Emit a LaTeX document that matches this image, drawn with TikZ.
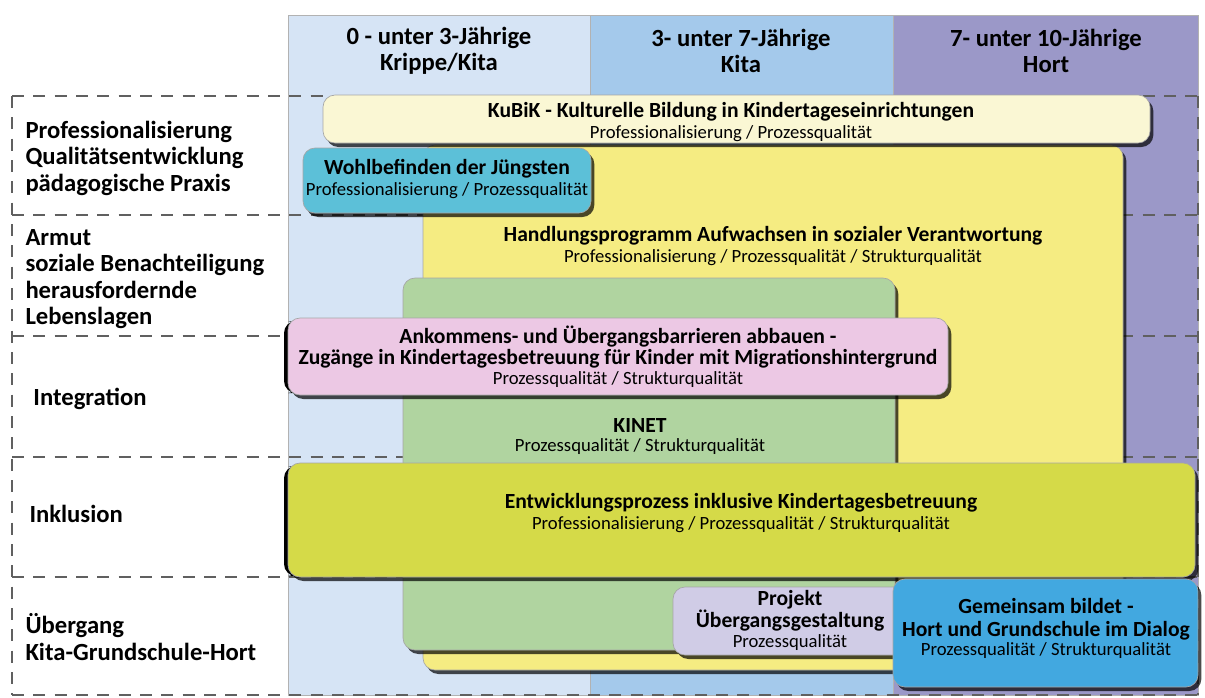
\documentclass[tikz,border=0pt]{standalone}
\usepackage{fontspec}
\setmainfont{Carlito}
\usetikzlibrary{shadows}

\definecolor{colKrippe}{RGB}{214,228,245}
\definecolor{colKita}{RGB}{164,201,235}
\definecolor{colHort}{RGB}{155,152,200}
\definecolor{fillKubik}{RGB}{250,247,212}
\definecolor{fillWohl}{RGB}{92,192,216}
\definecolor{fillHand}{RGB}{245,236,130}
\definecolor{fillKinet}{RGB}{176,212,160}
\definecolor{fillAnk}{RGB}{236,200,228}
\definecolor{fillInkl}{RGB}{213,218,72}
\definecolor{fillProj}{RGB}{208,204,230}
\definecolor{fillGem}{RGB}{66,168,224}

\tikzset{every picture/.style={line width=0.75pt}}
\tikzset{
  rowlabel/.style={anchor=west,inner sep=0.75pt,align=left,font=\fontsize{18.5}{19.9}\selectfont\bfseries},
  headtext/.style={inner sep=0.75pt,align=center,font=\fontsize{18.5}{19.5}\selectfont\bfseries},
  boxtitle/.style={inner sep=0.75pt,align=center,font=\fontsize{16.2}{15.5}\selectfont\bfseries},
  boxsub/.style={inner sep=0.75pt,font=\fontsize{14}{15}\selectfont},
  projbox/.style={draw=gray!70,line width=0.5pt,rounded corners=9,
    drop shadow={shadow xshift=2.5pt,shadow yshift=-3pt,fill=black,opacity=0.7}},
  rowline/.style={draw=gray!75!black,line width=0.8pt,dash pattern=on 9pt off 7pt},
}

\begin{document}
\begin{tikzpicture}[x=0.75pt,y=0.75pt,yscale=-1,xscale=1]
\useasboundingbox (0,0) rectangle (1205,697);

%Columns
\draw [draw=gray!60,fill=colKrippe] (288,15) rectangle (590,695) ;
\draw [draw=gray!60,fill=colKita] (590,15) rectangle (893,695) ;
\draw [draw=gray!60,fill=colHort] (893,15) rectangle (1198,695) ;

%Row lines
\foreach \y in {96,215,336,457,577,695}
  \draw [rowline] (12,\y) -- (1198,\y) ;
\draw [rowline] (12,96) -- (12,695) ;
\draw [rowline] (1198,96) -- (1198,695) ;

%Shape: Handlungsprogramm
\draw [projbox,fill=fillHand] (423,145) rectangle (1123,670) ;
%Shape: KuBiK
\draw [projbox,fill=fillKubik] (323,95) rectangle (1150,143) ;
%Shape: Wohlbefinden
\draw [projbox,fill=fillWohl] (303,148) rectangle (591,213) ;
%Shape: KINET
\draw [projbox,fill=fillKinet] (403,278) rectangle (895,650) ;
%Shape: Ankommen
\fill [black,rounded corners=9] (284,321) rectangle (300,393) ;
\draw [projbox,fill=fillAnk] (288,318) rectangle (948,395) ;
%Shape: Inklusion
\fill [black,rounded corners=9] (284,466) rectangle (300,576) ;
\draw [projbox,fill=fillInkl] (288,463) rectangle (1195,577) ;
%Shape: Projekt
\draw [projbox,fill=fillProj] (673,587) rectangle (905,655) ;
%Shape: Gemeinsam
\draw [projbox,fill=fillGem] (893,579) rectangle (1198,687) ;

% Text Node
\draw (439,51) node (hKrippe) [headtext] {0 - unter 3-Jährige\\Krippe/Kita};
% Text Node
\draw (741,51) node (hKita) [headtext] {3- unter 7-Jährige\\Kita};
% Text Node
\draw (1046,51) node (hHort) [headtext] {7- unter 10-Jährige\\Hort};

% Text Node
\draw (24,158) node (rProf) [rowlabel] {Professionalisierung\\Qualitätsentwicklung\\pädagogische Praxis};
% Text Node
\draw (24,279) node (rArmut) [rowlabel] {Armut\\soziale Benachteiligung\\herausfordernde\\Lebenslagen};
% Text Node
\draw (32,399) node (rInteg) [rowlabel] {Integration};
% Text Node
\draw (28,514) node (rInkl) [rowlabel] {Inklusion};
% Text Node
\draw (24,637) node (rUeber) [rowlabel] {Übergang\\Kita-Grundschule-Hort};

% Text Node
\draw (731,112) node (tKubik) [boxtitle] {KuBiK - Kulturelle Bildung in Kindertageseinrichtungen};
\draw (731,134) node (sKubik) [boxsub] {Professionalisierung / Prozessqualität};
% Text Node
\draw (447,169) node (tWohl) [boxtitle] {Wohlbefinden der Jüngsten};
\draw (447,191) node (sWohl) [boxsub] {Professionalisierung / Prozessqualität};
% Text Node
\draw (773,236) node (tHand) [boxtitle] {Handlungsprogramm Aufwachsen in sozialer Verantwortung};
\draw (773,258) node (sHand) [boxsub] {Professionalisierung / Prozessqualität / Strukturqualität};
% Text Node
\draw (618,347) node (tAnk) [boxtitle] {Ankommens- und Übergangsbarrieren abbauen -\\Zugänge in Kindertagesbetreuung für Kinder mit Migrationshintergrund};
\draw (618,380) node (sAnk) [boxsub] {Prozessqualität / Strukturqualität};
% Text Node
\draw (640,425) node (tKinet) [boxtitle] {KINET};
\draw (640,447) node (sKinet) [boxsub] {Prozessqualität / Strukturqualität};
% Text Node
\draw (741,503) node (tInkl) [boxtitle] {Entwicklungsprozess inklusive Kindertagesbetreuung};
\draw (741,525) node (sInkl) [boxsub] {Professionalisierung / Prozessqualität / Strukturqualität};
% Text Node
\draw (790,611) node (tProj) [boxtitle,font=\fontsize{16.2}{16.5}\selectfont\bfseries] {Projekt\\Übergangsgestaltung};
\draw (790,643) node (sProj) [boxsub] {Prozessqualität};
% Text Node
\draw (1046,619) node (tGem) [boxtitle,font=\fontsize{16.2}{17.5}\selectfont\bfseries] {Gemeinsam bildet -\\Hort und Grundschule im Dialog};
\draw (1046,651) node (sGem) [boxsub] {Prozessqualität / Strukturqualität};

\end{tikzpicture}
\end{document}
